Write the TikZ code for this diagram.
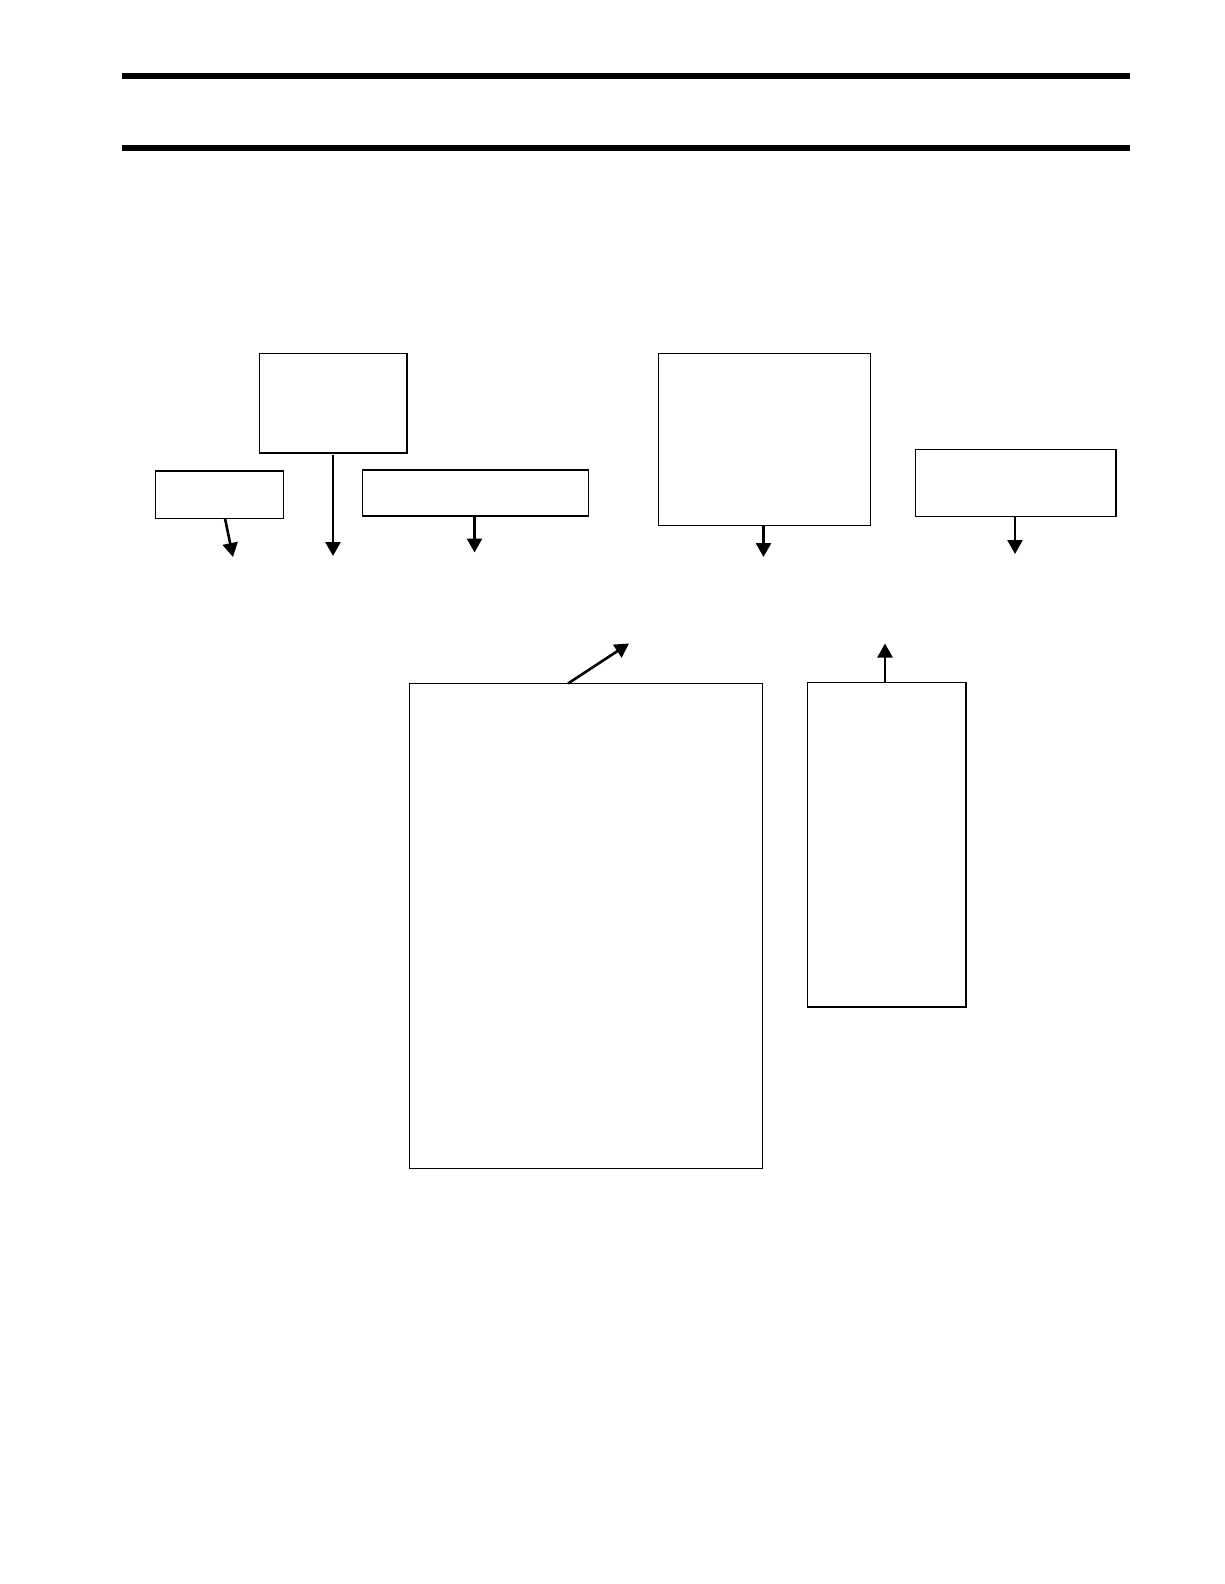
\documentclass[tikz,border=0pt]{standalone}
\usetikzlibrary{arrows.meta}
\begin{document}
\begin{tikzpicture}[x=1bp,y=-1bp,
  box/.style={draw=black,line width=1.3bp,fill=white,rectangle,inner sep=0pt,outer sep=0pt,anchor=north west},
  rule/.style={line width=6bp},
  conn/.style={line width=2.6bp,-{Triangle[width=15bp,length=14bp]}}]
\useasboundingbox (0,0) rectangle (1224,1584);
\coordinate (r1a) at (122,76); \coordinate (r1b) at (1130,76);
\coordinate (r2a) at (122,148); \coordinate (r2b) at (1130,148);
\draw[rule] (r1a) -- (r1b);
\draw[rule] (r2a) -- (r2b);
\node[box,minimum width=147.5bp,minimum height=99.5bp] (A) at (259.5,353.5) {};
\node[box,minimum width=128bp,minimum height=47.5bp] (B) at (155.5,471) {};
\node[box,minimum width=226bp,minimum height=46bp] (C) at (362.5,470) {};
\node[box,minimum width=212bp,minimum height=172bp] (D) at (658.5,353.5) {};
\node[box,minimum width=200.5bp,minimum height=67bp] (E) at (915.5,449.5) {};
\node[box,minimum width=353bp,minimum height=485bp] (F) at (409.5,683.5) {};
\node[box,minimum width=158.5bp,minimum height=324.5bp] (G) at (807.5,682.5) {};
\coordinate (bs) at (225,518.5); \coordinate (be) at (233,557);
\coordinate (as) at (333,455); \coordinate (ae) at (333,556);
\coordinate (ce) at (474.5,552.5);
\coordinate (de) at (763.5,557);
\coordinate (ee) at (1015,554);
\coordinate (fs) at (568,683.5); \coordinate (fe) at (629,643.5);
\coordinate (ge) at (885,643.5);
\draw[conn] (bs) -- (be);
\draw[conn] (as) -- (ae);
\draw[conn] (C.south -| ce) -- (ce);
\draw[conn] (D.south -| de) -- (de);
\draw[conn] (E.south -| ee) -- (ee);
\draw[conn] (fs) -- (fe);
\draw[conn] (G.north -| ge) -- (ge);
\end{tikzpicture}
\end{document}
